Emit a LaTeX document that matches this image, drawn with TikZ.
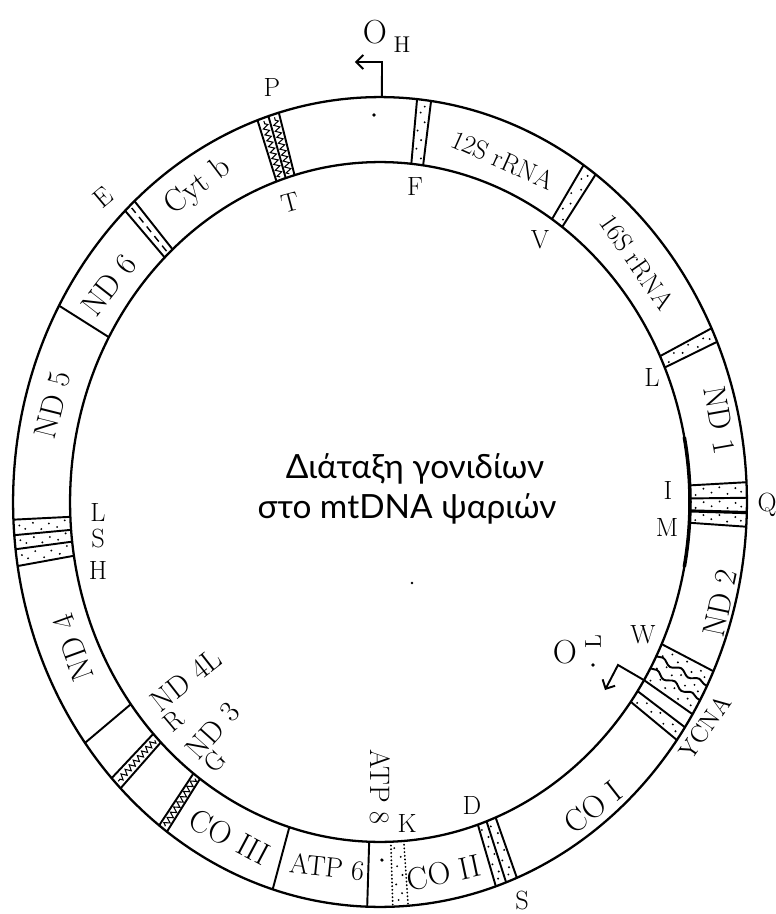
\documentclass[tikz,border=0pt]{standalone}
\usepackage{fontspec}
\newfontfamily\grk{Lato}
\usetikzlibrary{arrows.meta,decorations.pathmorphing}
\tikzset{
  ring/.style={line width=1.3pt},
  sep/.style={line width=1.1pt},
  gene/.style={font=\fontsize{18}{18}\selectfont, inner sep=0pt},
  rrna/.style={font=\fontsize{15}{15}\selectfont, inner sep=0pt},
  trna/.style={font=\fontsize{15}{15}\selectfont, inner sep=0pt},
  wavy/.style={decorate, decoration={snake, amplitude=1.3pt, segment length=12pt}},
  hatch/.style={decorate, decoration={zigzag, amplitude=1.6pt, segment length=3.5pt}, line width=0.6pt},
  dotline/.style={line width=1.1pt, dash pattern=on 0.1pt off 2pt, line cap=round},
  barb/.style={-{Straight Barb[length=4pt,width=8pt]}, line width=1.1pt},
}
\newcommand{\bl}[1]{\draw[sep] (#1:310 and 340) -- (#1:367 and 405);}
\newcommand{\sdots}[2]{\foreach \f/\s in {0.1/-0.25,0.24/0.2,0.38/-0.1,0.52/0.25,0.66/-0.22,0.8/0.15,0.9/-0.1}{\fill ({(#1+#2)/2+\s*(#2-#1)}:{310+\f*57} and {340+\f*65}) circle[radius=0.6pt];}}
\newcommand{\hmid}[3]{\draw[#3] ({(#1+#2)/2}:313 and 343) -- ({(#1+#2)/2}:364 and 402);}
\begin{document}
\begin{tikzpicture}[x=0.02cm, y=0.02cm]
\useasboundingbox (-380,-412) rectangle (396,502);
% ring
\draw[ring] (0,0) ellipse [x radius=7.34cm, y radius=8.1cm];
\draw[ring] (0,0) ellipse [x radius=6.2cm, y radius=6.8cm];
\draw[line width=2pt] (11:310 and 340) arc[start angle=11, end angle=-11, x radius=6.2cm, y radius=6.8cm];
% F
\bl{82}\bl{84.2}\sdots{82}{84.2}
% V
\bl{54}\bl{56.3}\sdots{54}{56.3}
% L
\bl{23.3}\bl{25.4}\sdots{23.3}{25.4}
% I Q M
\bl{2.8}\bl{0.6}\draw[line width=1.8pt] (-1.5:310 and 340) -- (-1.5:367 and 405);\bl{-3.5}
\sdots{0.6}{2.8}\sdots{-1.5}{0.6}\sdots{-3.5}{-1.5}
% W A N C Y
\bl{-24.7}
\draw[sep,wavy] (-27:310 and 340) -- (-27:367 and 405);
\draw[sep,wavy] (-29.3:310 and 340) -- (-29.3:367 and 405);
\bl{-31.6}\bl{-33.8}\bl{-36}
\sdots{-27}{-24.7}\sdots{-29.3}{-27}\sdots{-31.6}{-29.3}\sdots{-36}{-33.8}
% S D
\bl{-68.1}\bl{-69.9}\bl{-71.6}
\sdots{-69.9}{-68.1}\sdots{-71.6}{-69.9}
% K, ATP8
\draw[dotline] (-85.6:310 and 340) -- (-85.6:367 and 405);
\draw[dotline] (-88:310 and 340) -- (-88:367 and 405);
\sdots{-88}{-85.6}
\bl{-92}
\fill (2,-358) circle[radius=1pt];
% ATP6 / COIII
\bl{-107}
% G
\bl{-125.5}\bl{-127}\hmid{-125.5}{-127}{hatch}
% R
\bl{-135}\bl{-137}\hmid{-135}{-137}{hatch}
% ND4L / ND4
\bl{-143.5}
% H S L
\bl{-170.9}\bl{-173.3}\bl{-175.3}\bl{-177.5}
\sdots{-173.3}{-170.9}\sdots{-175.3}{-173.3}\sdots{-177.5}{-175.3}
% ND5 / ND6
\bl{151}
% E
\bl{132}\bl{134}\hmid{132}{134}{line width=0.8pt, dash pattern=on 4pt off 3pt}
% T P
\bl{106}\bl{107.7}\bl{109.5}
\hmid{106}{107.7}{hatch}\hmid{107.7}{109.5}{hatch}
% dots
\fill (-6,387) circle[radius=1pt];
\fill (32,-81) circle[radius=0.8pt];
% O_H
\coordinate (ohbase) at (89.7:367 and 405);
\coordinate (ohtop) at (2,440);
\coordinate (ohtip) at (-25,440);
\draw[barb] (ohbase) -- (ohtop) -- (ohtip);
\node[font=\fontsize{19}{19}\selectfont, inner sep=0pt] (ohO) at (-5,470) {O};
\node[font=\fontsize{13}{13}\selectfont, inner sep=0pt] (ohH) at (22,457) {H};
% O_L
\coordinate (olbase) at (-31.6:310 and 340);
\coordinate (olcorner) at (238,-163);
\coordinate (oltip) at (225,-188);
\draw[barb] (olbase) -- (olcorner) -- (oltip);
\node[font=\fontsize{19}{19}\selectfont, inner sep=0pt] (olO) at (185,-150) {O};
\node[font=\fontsize{13}{13}\selectfont, inner sep=0pt, rotate=90] (olL) at (213,-140) {L};
\fill (213,-163) circle[radius=1pt];
% gene labels
\node[rrna, rotate=-24] (g12s) at (123,342) {12S rRNA};
\node[rrna, rotate=-55] (g16s) at (257,240) {16S rRNA};
\node[gene, rotate=-80] (nd1) at (340,82) {ND 1};
\node[gene, rotate=78] (nd2) at (340,-101) {ND 2};
\node[gene, rotate=38] (co1) at (213,-305) {CO I};
\node[gene, rotate=12] (co2) at (64,-371) {CO II};
\node[gene, font=\fontsize{16}{16}\selectfont, rotate=-6] (atp6) at (-53,-365) {ATP 6};
\node[gene, rotate=-28] (co3) at (-150,-335) {CO III};
\node[gene, rotate=110] (nd4) at (-307,-146) {ND 4};
\node[gene, rotate=76] (nd5) at (-327,97) {ND 5};
\node[gene, rotate=52] (nd6) at (-271,217) {ND 6};
\node[gene, rotate=37] (cytb) at (-182,315) {Cyt b};
\node[gene, font=\fontsize{17}{17}\selectfont, rotate=38] (nd4l) at (-194,-178) {ND 4L};
\node[gene, font=\fontsize{17}{17}\selectfont, rotate=48] (nd3) at (-167,-229) {ND 3};
\node[gene, font=\fontsize{16}{16}\selectfont, rotate=-90] (atp8) at (0,-285) {ATP 8};
% tRNA labels
\node[trna, rotate=40] (tR) at (-206,-219) {R};
\node[trna, rotate=45] (tG) at (-165,-259) {G};
\node[trna] (tK) at (27,-321) {K};
\node[trna] (tD) at (92,-303) {D};
\node[trna] (tS) at (142,-398) {S};
\node[trna, font=\fontsize{14}{14}\selectfont, rotate=55] (ycna) at (325,-225) {YCNA};
\node[trna] (tW) at (263,-133) {W};
\node[trna] (tI) at (288,12) {I};
\node[trna] (tM) at (287,-25) {M};
\node[trna] (tQ) at (387,-3) {Q};
\node[trna] (tL1) at (272,125) {L};
\node[trna] (tV) at (160,262) {V};
\node[trna] (tF) at (35,315) {F};
\node[trna, rotate=15] (tT) at (-90,299) {T};
\node[trna] (tP) at (-108,415) {P};
\node[trna, rotate=40] (tE) at (-277,305) {E};
\node[trna] (tL2) at (-282,-10) {L};
\node[trna] (tS2) at (-282,-36) {S};
\node[trna] (tH) at (-282,-68) {H};
% centre text
\node[font=\grk\fontsize{19}{19}\selectfont, anchor=base, inner sep=0pt] (t1) at (35,24) {Διάταξη γονιδίων};
\node[font=\grk\fontsize{19}{19}\selectfont, anchor=base, inner sep=0pt] (t2) at (27,-16) {στο mtDNA ψαριών};
\end{tikzpicture}
\end{document}
